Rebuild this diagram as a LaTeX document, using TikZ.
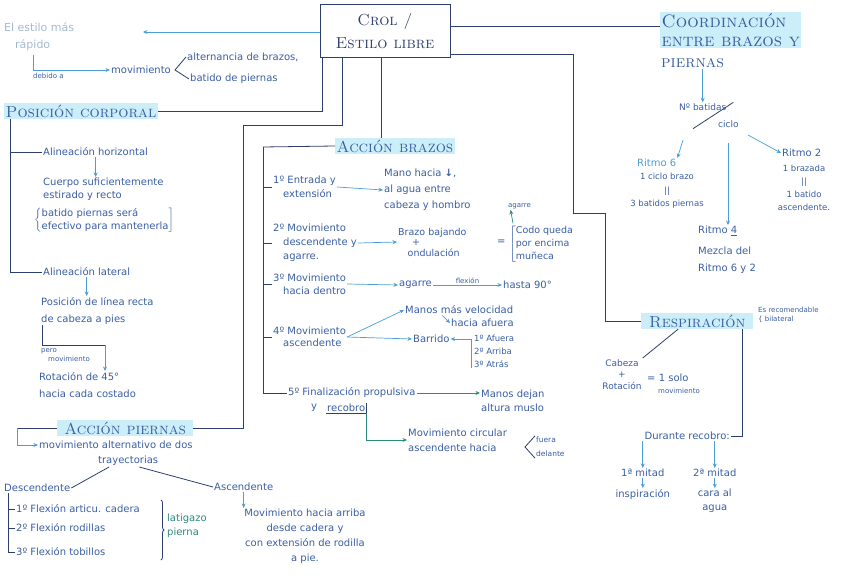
\documentclass[tikz,border=0pt]{standalone}
\usepackage{fontspec}
\usepackage{tikz}
\usetikzlibrary{arrows.meta,positioning,calc,decorations.pathreplacing}
\newfontfamily\handfont{DejaVu Sans}
\definecolor{pen}{HTML}{2E3F6E}
\definecolor{ink}{HTML}{3A5FA3}
\definecolor{sky}{HTML}{4A9FD6}
\definecolor{pale}{HTML}{A3BAD4}
\definecolor{hl}{HTML}{CBEEF8}
\definecolor{tealink}{HTML}{2E8A7D}

\begin{document}
\begin{tikzpicture}[x=1pt, y=-1pt,
  txt/.style={anchor=west, inner sep=1pt, text=ink, align=left, font=\handfont\fontsize{10}{14}\selectfont},
  tinytxt/.style={txt, font=\handfont\fontsize{7}{9}\selectfont},
  lbl/.style={inner sep=1pt, text=ink, font=\handfont\fontsize{7}{9}\selectfont},
  head/.style={anchor=west, inner sep=1.5pt, fill=hl, text=ink, font=\fontsize{16}{19}\selectfont\scshape},
  link/.style={pen, line width=0.8pt},
  arrow/.style={-{Stealth[length=4.5pt,width=4pt]}, sky, line width=0.7pt},
  tarrow/.style={arrow, tealink}
]
\fill[white] (0,0) rectangle (848,585);
\useasboundingbox (0,0) rectangle (848,585);

% main box
\node[draw=pen, line width=0.8pt, minimum width=130pt, minimum height=53pt, text=pen,
  font=\fontsize{16}{23}\selectfont\scshape, align=center] (crol) at (385,31) {Crol /\\Estilo libre};
\coordinate (tapA) at ([xshift=3pt]crol.south west);
\coordinate (tapB) at ([xshift=23pt]crol.south west);
\coordinate (tapC) at ([xshift=62pt]crol.south west);
\coordinate (crolR1) at ([yshift=4.5pt]crol.east);
\coordinate (crolR2) at ([yshift=-23.5pt]crol.east);

% fastest style
\node[txt, text=pale, font=\handfont\fontsize{11}{17}\selectfont] (rapido) at (3,37) {El estilo más\\\quad rápido};
\coordinate (rapidoend) at (143,32);
\draw[arrow] (rapidoend -| crol.west) -- (rapidoend);
\coordinate (debA) at (33,55);
\node[txt] (movim) at (110,70) {movimiento};
\node[tinytxt] (debido) at (32,76) {debido a};
\draw[arrow] (debA) |- (movim.west);
\node[txt] (altbr) at (186,57) {alternancia de brazos,};
\node[txt] (batpi) at (189,79) {batido de piernas};
\draw[link] (altbr.west) -- ([xshift=3pt]movim.east) -- (batpi.west);

% body position
\node[head] (poscorp) at (4,111) {Posición corporal};
\draw[link] (poscorp.east) -| (tapA);
\node[txt] (alhor) at (42,152) {Alineación horizontal};
\node[txt] (allat) at (42,272) {Alineación lateral};
\draw[link] ([xshift=6pt]poscorp.south west) |- (alhor.west);
\draw[link] ([xshift=6pt]poscorp.south west) |- (allat.west);
\node[txt, anchor=north west, font=\handfont\fontsize{10}{13}\selectfont] (cuerpo) at (42,177) {Cuerpo suficientemente\\estirado y recto};
\node[txt, anchor=north west, font=\handfont\fontsize{10}{13}\selectfont] (batido) at (33,206)
  {$\left\{\mbox{\begin{tabular}{@{}l@{}}batido piernas será\\efectivo para mantenerla\end{tabular}}\right]$};
\draw[arrow] (alhor.south) -- (alhor.south |- cuerpo.north);
\node[txt, anchor=north west, font=\handfont\fontsize{10}{17}\selectfont] (linea) at (40,296) {Posición de línea recta\\de cabeza a pies};
\draw[arrow] (allat.south) -- (allat.south |- linea.north);
\node[tinytxt, anchor=north west] (pero) at (40,347) {pero\\\quad movimiento};
\node[txt, anchor=north west, font=\handfont\fontsize{10}{17}\selectfont] (rotac) at (38,371) {Rotación de 45°\\hacia cada costado};
\coordinate (pm) at (105,345);
\draw[link] ([xshift=2pt]linea.south west) |- (pm);
\draw[arrow] (pm) -- (pm |- rotac.north);

% legs
\node[head, minimum width=136pt] (accpi) at (57,428) {Acción piernas};
\coordinate (cP) at (243,125);
\draw[link] (tapB) |- (cP) |- (accpi.east);
\coordinate (apb) at (17,428);
\draw[link] (accpi.west) -- (apb);
\node[txt] (altern) at (38,445) {movimiento alternativo de dos};
\node[txt] (tray) at (97,461) {trayectorias};
\draw[arrow] (apb) |- (altern.west);
\node[txt] (desc) at (3,488) {Descendente};
\node[txt] (asc) at (213,487) {Ascendente};
\draw[link] (desc.east) -- ([xshift=12pt]tray.south west);
\draw[link] ([xshift=-20pt]tray.south east) -- (asc.west);
\node[txt] (fl1) at (15,509) {1º Flexión articu. cadera};
\node[txt] (fl2) at (15,528) {2º Flexión rodillas};
\node[txt] (fl3) at (15,552) {3º Flexión tobillos};
\draw[link] ([xshift=5pt]desc.south west) |- (fl1.west);
\draw[link] ([xshift=5pt]desc.south west) |- (fl2.west);
\draw[link] ([xshift=5pt]desc.south west) |- (fl3.west);
\draw[link, decorate, decoration={brace, amplitude=3pt}] (161,500) -- (161,560);
\node[txt, text=tealink] (latig) at (166,526) {latigazo\\pierna};
\node[txt, anchor=north, align=center, font=\handfont\fontsize{10}{15}\selectfont] (asctxt) at (305,508)
  {Movimiento hacia arriba\\desde cadera y\\con extensión de rodilla\\a pie.};
\draw[arrow] (asc.south) -- (asc.south |- asctxt.north);

% arms
\node[head, minimum width=112pt] (accbr) at (335,146) {Acción brazos};
\draw[link] (tapC) -- (tapC |- accbr.north);
\coordinate (abar) at (263,147);
\draw[link] (accbr.west) -- (abar);

\node[txt] (b1) at (272,187) {1º Entrada y\\\quad extensión};
\node[txt, font=\handfont\fontsize{10}{16}\selectfont] (b1r) at (383,190) {Mano hacia {\bfseries ↓},\\al agua entre\\cabeza y hombro};
\draw[arrow] (b1.east) -- (b1r.west);

\node[txt] (b2) at (272,243) {2º Movimiento\\\quad descendente y\\\quad agarre.};
\node[txt, font=\handfont\fontsize{9.5}{10.5}\selectfont] (b2r) at (397,242) {Brazo bajando\\\hspace{14pt}+\\\quad ondulación};
\draw[arrow] (b2.east) -- (b2r.west);
\node[txt] (eqsign) at (496,242) {=};
\node[txt, font=\handfont\fontsize{9.5}{13}\selectfont] (codo) at (508,244)
  {$\left[\mbox{\begin{tabular}{@{}l@{}}Codo queda\\por encima\\muñeca\end{tabular}}\right.$};
\node[tinytxt] (agarre1) at (507,206) {agarre};
\draw[tarrow] ([xshift=5pt]codo.north west) -- ([xshift=-9pt]agarre1.south);

\node[txt, font=\handfont\fontsize{10}{13}\selectfont] (b3) at (272,284) {3º Movimiento\\\quad hacia dentro};
\node[txt] (b3a) at (398,285) {agarre};
\node[txt] (b3b) at (502,285) {hasta 90°};
\draw[arrow] (b3.east) -- (b3a.west);
\draw[arrow] (b3a.east) -- node[lbl, above] {flexión} (b3b.west);

\node[txt, font=\handfont\fontsize{10}{12}\selectfont] (b4) at (272,337) {4º Movimiento\\\quad ascendente};
\node[txt] (b4a) at (404,310) {Manos más velocidad};
\node[txt] (b4b) at (450,323) {hacia afuera};
\node[txt] (b4c) at (412,339) {Barrido};
\node[txt, font=\handfont\fontsize{8.5}{13}\selectfont] (b4d) at (473,351) {1º Afuera\\2º Arriba\\3º Atrás};
\draw[arrow] (b4.east) -- (b4a.west);
\draw[arrow] ([xshift=38pt]b4a.south west) -- (b4b.west);
\draw[arrow] (b4.east) -- (b4c.west);
\draw[arrow] ([xshift=-2pt]b4d.south west) |- (b4c.east);

\node[txt] (b5) at (287,393) {5º Finalización propulsiva};
\node[txt] (yy) at (310,408) {y};
\node[txt] (reco) at (326,408) {recobro};
\draw[link] (reco.south west) -| (reco.north east);
\node[txt] (b5a) at (480,401) {Manos dejan\\altura muslo};
\draw[tarrow] (b5.east) -- (b5.east -| b5a.west);
\node[txt, font=\handfont\fontsize{10}{15}\selectfont] (circ) at (407,440) {Movimiento circular\\ascendente hacia};
\draw[tarrow] (reco.south east) |- (circ.west);
\node[tinytxt, font=\handfont\fontsize{7.5}{14}\selectfont] (fuera) at (535,447) {fuera\\delante};
\draw[link] (fuera.north west) -- ([xshift=-10pt]fuera.west) -- (fuera.south west);

\draw[link] (abar) |- (b1.west);
\draw[link] (abar) |- (b2.west);
\draw[link] (abar) |- (b3.west);
\draw[link] (abar) |- (b4.west);
\draw[link] (abar) |- (b5.west);

% coordination
\node[head, anchor=north west, align=left, font=\fontsize{18}{19}\selectfont\scshape] (coordhd) at (660,12) {Coordinación\\entre brazos y};
\node[txt, font=\fontsize{17}{19}\selectfont\scshape] (coordpi) at (660,63) {piernas};
\draw[link] (crolR1) -- (crolR1 -| coordhd.west);
\node[txt, font=\handfont\fontsize{9}{11}\selectfont] (nbat) at (678,107) {Nº batidas};
\node[txt, font=\handfont\fontsize{9}{11}\selectfont] (ciclo) at (717,124) {ciclo};
\draw[arrow] (nbat.north |- coordpi.south) -- (nbat.north);
\draw[link] ([xshift=-24pt]ciclo.south west) -- ([xshift=6pt]nbat.north east);
\coordinate (fr6) at (683,140);
\coordinate (fr4) at (728,143);
\coordinate (fr2) at (748,135);

\node[txt, text=sky] (r6) at (636,163) {Ritmo 6};
\node[txt, anchor=north, align=center, font=\handfont\fontsize{8.5}{13.5}\selectfont] (r6t) at (667,172) {1 ciclo brazo\\||\\3 batidos piernas};
\node[txt] (r4) at (697,231) {Ritmo \underline{4}};
\node[txt, anchor=north west, font=\handfont\fontsize{10}{17}\selectfont] (r4t) at (697,246) {Mezcla del\\Ritmo 6 y 2};
\node[txt] (r2) at (781,153) {Ritmo 2};
\node[txt, anchor=north, align=center, font=\handfont\fontsize{8.5}{13}\selectfont] (r2t) at (804,164) {1 brazada\\||\\1 batido\\ascendente.};
\draw[arrow] (fr6) -- (r6.north east);
\draw[arrow] (fr4) -- (fr4 |- r4.north);
\draw[arrow] (fr2) -- (r2.west);

% breathing
\node[head, minimum width=112pt] (resp) at (641,321) {Respiración};
\coordinate (rp1) at (573,213);
\coordinate (rp2) at (605,213);
\draw[link] (crolR2) -| (rp1) -- (rp2) |- (resp.west);
\node[tinytxt] (bilat) at (757,315) {Es recomendable\\\{ bilateral};
\node[txt, anchor=north, align=center, font=\handfont\fontsize{9}{11.5}\selectfont] (cabeza) at (622,358) {Cabeza\\+\\Rotación};
\node[txt] (eq1) at (646,378) {= 1 solo};
\node[tinytxt] (movunico) at (657,391) {movimiento};
\draw[link] ([xshift=-19pt]resp.south) -- (cabeza.north east);
\node[txt, anchor=east] (durante) at (731,436) {Durante recobro:};
\draw[link] ([xshift=45pt]resp.south) |- (durante.east);
\node[txt] (mit1) at (620,473) {1ª mitad};
\node[txt] (mit2) at (692,473) {2ª mitad};
\draw[arrow] (mit1.north |- durante.south) -- (mit1.north);
\draw[arrow] (mit2.north |- durante.south) -- (mit2.north);
\node[txt, below=10pt of mit1] (insp) {inspiración};
\node[txt, align=center, below=10pt of mit2] (cara) {cara al\\agua};
\draw[arrow] (mit1.south) -- (insp.north);
\draw[arrow] (mit2.south) -- (cara.north);
\end{tikzpicture}
\end{document}
